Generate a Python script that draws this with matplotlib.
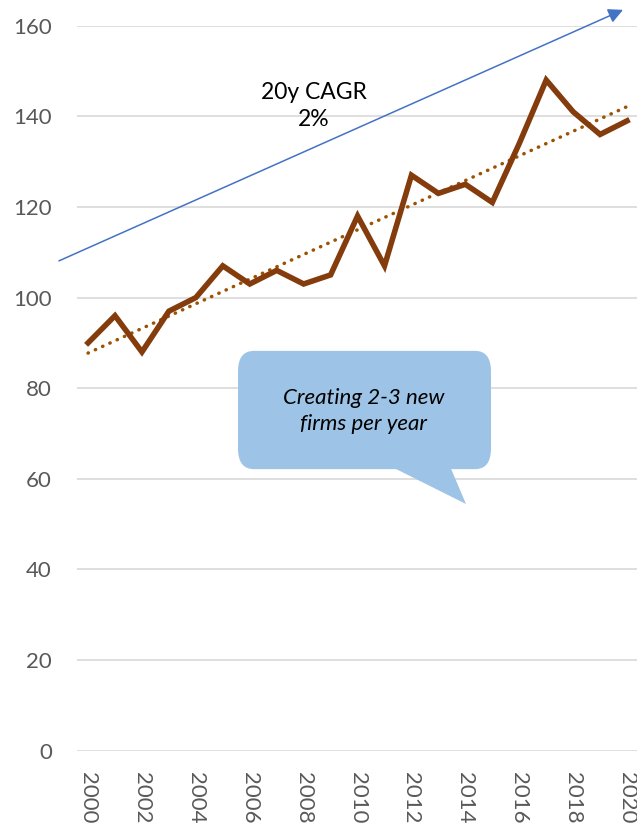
import matplotlib
matplotlib.use("Agg")
import matplotlib.pyplot as plt
import numpy as np
from matplotlib.patches import FancyBboxPatch, Polygon

years = list(range(2000, 2021))
firms = [90, 96, 88, 97, 100, 107, 103, 106, 103, 105, 118, 107, 127, 123, 125, 121, 134, 148, 141, 136, 139]
y_ticks = [0, 20, 40, 60, 80, 100, 120, 140, 160]
x_ticks = list(range(2000, 2021, 2))
cagr_label = "20y CAGR\n2%"
callout_label = "Creating 2-3 new\nfirms per year"

plt.rcParams['font.family'] = ['Lato', 'DejaVu Sans']

W, H = 637, 827
fig = plt.figure(figsize=(W / 100, H / 100), dpi=100)

def fx(px):
    return px / W

def fy(py):
    return 1 - py / H

left_px, right_px = 77, 640
top_px, bottom_px = 25.7, 750.7
ax = fig.add_axes([fx(left_px), fy(bottom_px), (right_px - left_px) / W, (bottom_px - top_px) / H])
ax.set_xlim(1999.59, 2020.48)
ax.set_ylim(0, 160)

for s in ax.spines.values():
    s.set_visible(False)
ax.set_yticks(y_ticks)
ax.set_xticks(x_ticks)
ax.set_xticklabels([str(x) for x in x_ticks], rotation=-90)
ax.tick_params(axis='both', length=0, labelsize=16, labelcolor='#595959')
ax.tick_params(axis='y', pad=18)
ax.tick_params(axis='x', pad=15)
ax.yaxis.grid(True, color='#D9D9D9', linewidth=1.2)
ax.set_axisbelow(True)

# linear trendline
coef = np.polyfit(years, firms, 1)
trend = np.polyval(coef, years)
ax.plot(years, trend, color='#9C5200', linewidth=2.5, linestyle=(0, (0.1, 2.2)),
        dash_capstyle='round', zorder=2)

ax.plot(years, firms, color='#843C0C', linewidth=4.0, solid_joinstyle='miter', zorder=3)

# CAGR arrow
ax.annotate('', xy=(2019.85, 163.5), xytext=(1998.92, 108.1),
            xycoords='data', textcoords='data', annotation_clip=False,
            arrowprops=dict(arrowstyle='-|>', color='#4472C4', lw=1.1,
                            mutation_scale=22, shrinkA=0, shrinkB=0))
ax.text(2008.39, 142.3, cagr_label, ha='center', va='center', fontsize=16.5,
        color='black', linespacing=1.35)

# callout
bx0, by0, bx1, by1 = 238, 355, 491, 465
box = FancyBboxPatch((fx(bx0) + 0.02, fy(by1) + 0.015),
                     fx(bx1 - bx0) - 0.04, (by1 - by0) / H - 0.03,
                     boxstyle='round,pad=0.02,rounding_size=0.025',
                     transform=fig.transFigure, facecolor='#9DC3E6',
                     edgecolor='none', zorder=5)
fig.patches.append(box)
tail = Polygon([(fx(386), fy(by1 - 1)), (fx(449), fy(by1 - 1)), (fx(466), fy(504))],
               closed=True, transform=fig.transFigure, facecolor='#9DC3E6',
               edgecolor='none', zorder=5)
fig.patches.append(tail)
fig.text(fx(364), fy(411), callout_label, ha='center', va='center', fontsize=16,
         style='italic', color='black', linespacing=1.35, zorder=6)

fig.savefig('out.png', dpi=100)
